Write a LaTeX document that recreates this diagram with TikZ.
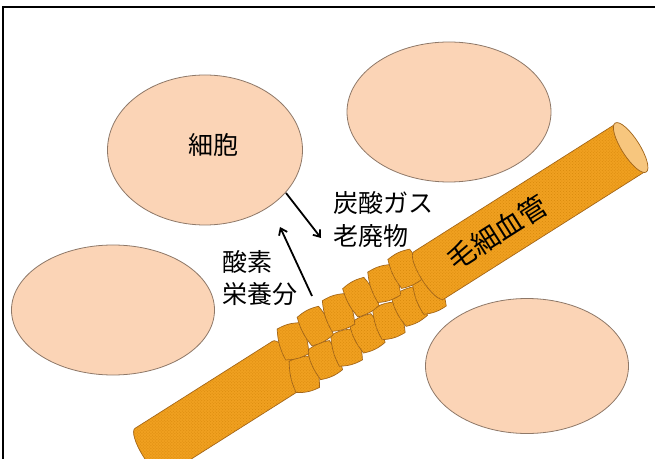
\documentclass[tikz,border=0pt]{standalone}
\usepackage{fontspec}
\newfontfamily\jpfont{Noto Sans CJK JP}
\usetikzlibrary{shapes.geometric,arrows.meta,patterns}

\definecolor{cellfill}{HTML}{FBD4B6}
\definecolor{celledge}{HTML}{8E7868}
\definecolor{tubefill}{HTML}{F0A020}
\definecolor{tubedot}{HTML}{D8890C}
\definecolor{tubeedge}{HTML}{A0641A}
\definecolor{tubeopen}{HTML}{F7C67E}

\tikzset{
  cell/.style={ellipse, draw=celledge, fill=cellfill, line width=0.8bp, inner sep=0pt},
  jplabel/.style={font=\jpfont\fontsize{25bp}{30bp}\selectfont, inner sep=0pt},
  tubepart/.style={fill=tubefill, draw=tubeedge, line width=0.7bp,
    postaction={pattern=crosshatch dots, pattern color=tubedot}},
  flow/.style={line width=1.8bp, -{Straight Barb[length=6bp,width=9bp]}},
  frameline/.style={line width=2bp}
}

% one loose wall tile of the vessel, in local vessel coordinates
\newcommand{\vesseltile}[3]{%
  \begin{scope}[shift={(#1,#2)},rotate=#3]
    \path[tubepart] (-12,-16) to[bend left=14] (12,-16) to[bend left=12] (12,16)
      to[bend left=14] (-12,16) to[bend left=12] cycle;
  \end{scope}}

\begin{document}
\begin{tikzpicture}[x=1bp,y=-1bp]
  \useasboundingbox (0,0) rectangle (655,459);
  \fill[white] (0,0) rectangle (655,459);

  % frame
  \draw[frameline] (3,460) -- (3,7) -- (656,7);

  % cells
  \node[cell, minimum width=195bp, minimum height=150bp] (cellA) at (205,150) {};
  \node[cell, minimum width=204bp, minimum height=140bp] (cellB) at (449,112) {};
  \node[cell, minimum width=203bp, minimum height=130bp] (cellC) at (113,310) {};
  \node[cell, minimum width=203bp, minimum height=135bp] (cellD) at (527,366) {};
  \node[jplabel] (cellname) at (213,145) {細胞};

  % capillary
  \begin{scope}[shift={(150,452)}, rotate=32.35]
    % lower-left solid part
    \path[tubepart] (0,-28) -- (163,-28)
      arc[start angle=-90, end angle=90, x radius=8, y radius=28]
      -- (0,28) arc[start angle=90, end angle=270, x radius=8, y radius=28] -- cycle;
    % loose tiles, lower row
    \vesseltile{172}{17}{-20}
    \vesseltile{197}{16}{-8}
    \vesseltile{222}{17}{-17}
    \vesseltile{247}{16}{-6}
    \vesseltile{272}{17}{-15}
    \vesseltile{297}{16}{-5}
    \vesseltile{320}{17}{-12}
    % loose tiles, upper row
    \vesseltile{180}{-17}{-17}
    \vesseltile{207}{-18}{-5}
    \vesseltile{234}{-17}{-15}
    \vesseltile{261}{-18}{-4}
    \vesseltile{288}{-17}{-14}
    \vesseltile{314}{-18}{-7}
    % upper-right solid part
    \path[tubepart] (330,-28) -- (569,-28) -- (569,28) -- (330,28)
      arc[start angle=90, end angle=270, x radius=8, y radius=28] -- cycle;
    \path[draw=tubeedge, fill=tubeopen, line width=0.7bp] (569,0) ellipse[x radius=9, y radius=29];
    \node[font=\jpfont\fontsize{28bp}{30bp}\selectfont, inner sep=0pt, rotate=32.35] (vesselname) at (411,0) {毛細血管};
  \end{scope}

  % exchange labels
  \node[jplabel, anchor=west] (co2) at (333,203) {炭酸ガス};
  \node[jplabel, anchor=west] (waste) at (333,236) {老廃物};
  \node[jplabel, anchor=west] (oxygen) at (222,262) {酸素};
  \node[jplabel, anchor=west] (nutrient) at (222,294) {栄養分};

  % exchange arrows
  \coordinate (outStart) at (286,193);
  \coordinate (outEnd) at (321,238);
  \coordinate (inStart) at (312,296);
  \coordinate (inEnd) at (280,227);
  \draw[flow] (outStart) -- (outEnd);
  \draw[flow] (inStart) -- (inEnd);
\end{tikzpicture}
\end{document}
